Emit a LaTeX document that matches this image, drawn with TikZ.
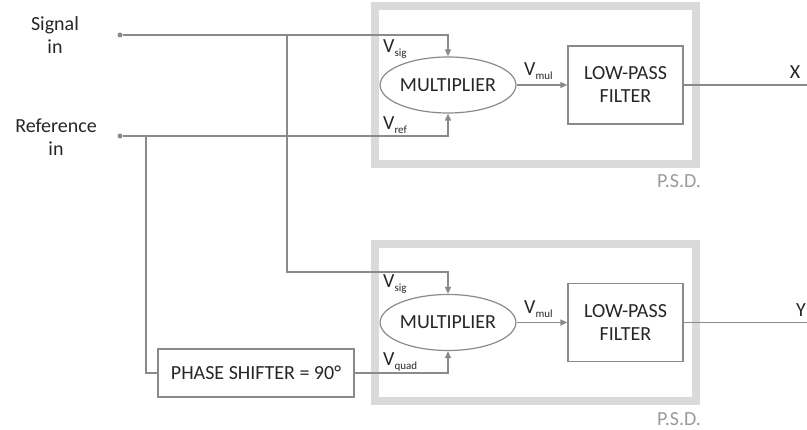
\documentclass[tikz,border=0pt]{standalone}
\usepackage{fontspec}
\setmainfont{Carlito}
\usetikzlibrary{shapes.geometric,arrows.meta}
\definecolor{wire}{HTML}{8A8A8A}
\definecolor{band}{HTML}{DADADA}
\definecolor{txt}{HTML}{262626}
\definecolor{psdtxt}{HTML}{9A9A9A}
\newcommand\Vsub[1]{V\raisebox{-0.22em}{\fontsize{11}{12}\selectfont #1}}
\begin{document}
\begin{tikzpicture}[x=1pt,y=-1pt,
  every node/.style={text=txt,font=\fontsize{20}{23}\selectfont},
  wireline/.style={draw=wire,line width=1.4pt},
  arr/.style={wireline,-{Triangle[length=7pt,width=6pt]}},
  psdband/.style={draw=band,line width=8pt},
  mulnode/.style={ellipse,draw=wire,line width=1.2pt,minimum width=133pt,minimum height=56pt,inner sep=0pt},
  lpfnode/.style={rectangle,draw=wire,line width=1.2pt,minimum width=115pt,minimum height=78pt,align=center,inner sep=0pt},
  psnode/.style={rectangle,draw=wire,line width=1.2pt,minimum width=196pt,minimum height=48pt,inner sep=0pt},
  dotnode/.style={circle,fill=wire,inner sep=0pt,minimum size=5pt},
  vlabel/.style={anchor=west,inner sep=0pt},
  psdlabel/.style={text=psdtxt,inner sep=0pt}]
\useasboundingbox (0,0) rectangle (807,430);
% P.S.D. frames
\draw[psdband] (375,6) rectangle (696,164);
\draw[psdband] (375,244) rectangle (696,401);
\node[psdlabel] (psd1) at (679,181) {P.S.D.};
\node[psdlabel] (psd2) at (679,419) {P.S.D.};
% inputs
\node[align=center,inner sep=0pt] (siglab) at (55,35) {Signal\\in};
\node[align=center,inner sep=0pt] (reflab) at (56,137) {Reference\\in};
\node[dotnode] (sigdot) at (120,35) {};
\node[dotnode] (refdot) at (120,136) {};
% blocks
\node[mulnode] (mul1) at (448,85) {MULTIPLIER};
\node[mulnode] (mul2) at (448,322.5) {MULTIPLIER};
\node[lpfnode] (lpf1) at (625.5,85) {LOW-PASS\\FILTER};
\node[lpfnode] (lpf2) at (625.5,322.5) {LOW-PASS\\FILTER};
\node[psnode] (ps) at (256,373) {PHASE SHIFTER = 90°};
% labels
\node[vlabel] (vsig1) at (383,49) {\Vsub{sig}};
\node[vlabel] (vref1) at (383,125) {\Vsub{ref}};
\node[vlabel] (vmul1) at (524,71) {\Vsub{mul}};
\node[vlabel] (vsig2) at (383,284) {\Vsub{sig}};
\node[vlabel] (vquad) at (383,362) {\Vsub{quad}};
\node[vlabel] (vmul2) at (524,309) {\Vsub{mul}};
\node (xlab) at (795,72) {X};
\node (ylab) at (801,310) {Y};
% coordinates
\coordinate (b1) at (287,35);
\coordinate (c1) at (287,272);
\coordinate (b2) at (146,136);
\coordinate (xout) at (807,85);
\coordinate (yout) at (807,322.5);
% wires
\draw[arr] (sigdot) -| (mul1.north);
\draw[arr] (refdot) -| (mul1.south);
\draw[arr] (b1) -- (c1) -| (mul2.north);
\draw[wireline] (b2) |- (ps.west);
\draw[arr] (ps.east) -| (mul2.south);
\draw[arr] (mul1.east) -- (lpf1.west);
\draw[arr] (mul2.east) -- (lpf2.west);
\draw[wireline] (lpf1.east) -- (xout);
\draw[wireline] (lpf2.east) -- (yout);
\end{tikzpicture}
\end{document}
